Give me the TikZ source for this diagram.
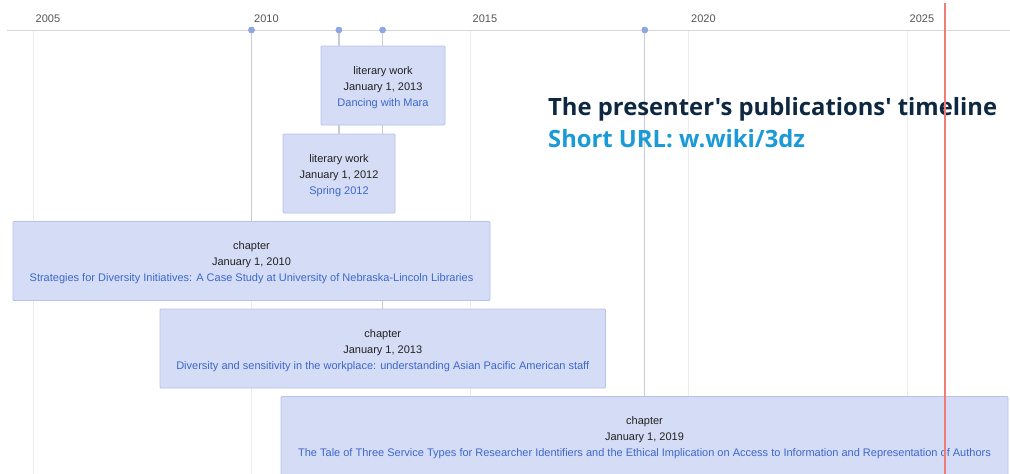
\documentclass[tikz,border=0pt]{standalone}
\usepackage{fontspec}
\setmainfont{Liberation Sans}
\newfontfamily\headfont{Open Sans}
\definecolor{gridgray}{HTML}{ECECEC}
\definecolor{axisgray}{HTML}{D6D6D6}
\definecolor{evgray}{HTML}{C6CBD6}
\definecolor{dotblue}{HTML}{8EA6E2}
\definecolor{boxfill}{HTML}{D5DCF5}
\definecolor{boxedge}{HTML}{B7C2EC}
\definecolor{linkblue}{HTML}{3C68CC}
\definecolor{txt}{HTML}{222222}
\definecolor{yeartxt}{HTML}{555555}
\definecolor{nowred}{HTML}{F07C78}
\definecolor{titlenavy}{HTML}{0E2841}
\definecolor{urlblue}{HTML}{1A9AD6}
\tikzset{
  grid line/.style={draw=gridgray, line width=1pt},
  ev line/.style={draw=evgray, line width=1.2pt},
  evdot/.style={circle, fill=dotblue, inner sep=0pt, minimum size=6.5pt},
  evbox/.style={draw=boxedge, fill=boxfill, line width=0.8pt, rounded corners=1pt,
    minimum height=79pt, align=center, inner sep=0pt, text=txt,
    font=\fontsize{11}{16}\selectfont},
  yearlbl/.style={anchor=west, inner sep=0pt, text=yeartxt, font=\fontsize{11}{13}\selectfont},
  headline/.style={anchor=base west, inner sep=0pt, font=\headfont\bfseries\fontsize{23.8}{28}\selectfont},
}
\newcommand{\lnk}[1]{\textcolor{linkblue}{#1}}
\newcommand{\topstrut}{\rule{0pt}{12pt}}
\begin{document}
\begin{tikzpicture}[x=1pt, y=-1pt]
\useasboundingbox (0,0) rectangle (1010,474);
\clip (0,0) rectangle (1010,474);
\fill[white] (0,0) rectangle (1010,474);

% year grid lines and labels
\foreach \yr/\xx in {2005/33, 2010/251.5, 2015/470, 2020/688.5, 2025/907} {
  \draw[grid line] (\xx,30) -- (\xx,474);
  \node[yearlbl] (y\yr) at (\xx+2.5,19) {\yr};
}
% axis
\draw[axisgray, line width=1pt] (7,30) -- (1010,30);

% event markers on the axis
\node[evdot] (d2010) at (251.5,30) {};
\node[evdot] (d2012) at (338.9,30) {};
\node[evdot] (d2013) at (382.6,30) {};
\node[evdot] (d2019) at (644.8,30) {};

% event boxes
\node[evbox, minimum width=124pt] (mara) at (383,85.5)
  {\topstrut literary work\\January 1, 2013\\\lnk{Dancing with Mara}};
\node[evbox, minimum width=112pt] (spring) at (339,173.5)
  {\topstrut literary work\\January 1, 2012\\\lnk{Spring 2012}};
\node[evbox, minimum width=477pt] (strat) at (251.5,261)
  {\topstrut chapter\\January 1, 2010\\\lnk{Strategies for Diversity Initiatives: A Case Study at University of Nebraska-Lincoln Libraries}};
\node[evbox, minimum width=445.5pt] (divers) at (382.75,348.5)
  {\topstrut chapter\\January 1, 2013\\\lnk{Diversity and sensitivity in the workplace: understanding Asian Pacific American staff}};
\node[evbox, minimum width=727pt] (tale) at (644.5,436)
  {\topstrut chapter\\January 1, 2019\\\lnk{The Tale of Three Service Types for Researcher Identifiers and the Ethical Implication on Access to Information and Representation of Authors}};

% stems from markers to boxes, drawn in the gaps between boxes
\draw[ev line] (d2010.center) -- (d2010.center |- strat.north);
\draw[ev line] (d2012.center) -- (d2012.center |- mara.north);
\draw[ev line] (d2013.center) -- (d2013.center |- mara.north);
\draw[ev line] (mara.south -| d2012.center) -- (d2012.center |- spring.north);
\draw[ev line] (mara.south -| d2013.center) -- (d2013.center |- spring.north);
\draw[ev line] (strat.south -| d2013.center) -- (d2013.center |- divers.north);
\draw[ev line] (d2019.center) -- (d2019.center |- tale.north);
\node[evdot] at (d2010) {};
\node[evdot] at (d2012) {};
\node[evdot] at (d2013) {};
\node[evdot] at (d2019) {};

% title
\node[headline, text=titlenavy] (title) at (548,115) {The presenter's publications' timeline};
\node[headline, text=urlblue] (url) at (548,147) {Short URL: w.wiki/3dz};

% today marker
\coordinate (nowtop) at (945,3);
\coordinate (nowbot) at (945,474);
\draw[nowred, line width=1.4pt] (nowtop) -- (nowbot);
\end{tikzpicture}
\end{document}
